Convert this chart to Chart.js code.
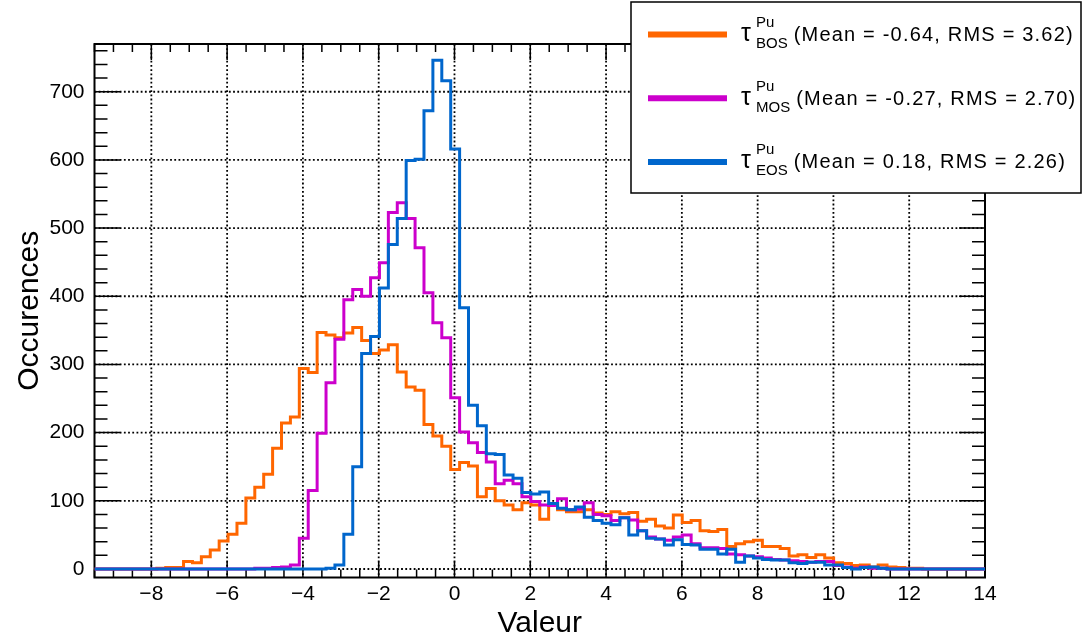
<!DOCTYPE html>
<html>
<head>
<meta charset="utf-8">
<title>tau Pu distributions</title>
<script src="https://cdn.jsdelivr.net/npm/chart.js@4.4.0/dist/chart.umd.min.js"></script>
<style>
  html, body { margin: 0; padding: 0; background: #fff; }
  canvas { display: block; }
</style>
</head>
<body>
<canvas id="histChart" width="1083" height="639"></canvas>
<script>
// histogram binning
const xMin = -9.5;
const xMax = 14;
const nBins = 100;

const xTickLabels = [-8, -6, -4, -2, 0, 2, 4, 6, 8, 10, 12, 14];
const yTickLabels = [0, 100, 200, 300, 400, 500, 600, 700];

// bin contents (100 bins each)
const bosCounts = [
  0, 0, 0, 0, 0, 0, 0, 1, 2, 2,
  11, 9, 18, 28, 41, 51, 67, 104, 120, 139,
  177, 214, 223, 294, 288, 347, 343, 339, 346, 354,
  335, 316, 321, 329, 289, 267, 262, 212, 195, 180,
  146, 156, 151, 106, 118, 100, 94, 87, 97, 94,
  73, 93, 87, 84, 84, 87, 82, 80, 84, 81,
  83, 70, 73, 63, 60, 79, 68, 71, 56, 55,
  58, 33, 37, 40, 42, 33, 33, 30, 19, 21,
  17, 21, 16, 9, 8, 5, 6, 3, 6, 3,
  2, 1, 1, 0, 0, 0, 0, 0, 0, 0
];
const mosCounts = [
  0, 0, 0, 0, 0, 0, 0, 0, 0, 0,
  0, 0, 0, 0, 0, 0, 0, 0, 1, 1,
  2, 3, 6, 45, 115, 199, 273, 337, 395, 410,
  400, 427, 449, 523, 537, 514, 471, 405, 361, 339,
  251, 201, 185, 171, 157, 125, 130, 125, 106, 99,
  94, 93, 103, 87, 88, 97, 80, 78, 71, 75,
  72, 56, 47, 44, 42, 47, 50, 37, 31, 31,
  30, 22, 21, 19, 18, 16, 14, 13, 12, 11,
  10, 11, 11, 5, 3, 1, 3, 1, 1, 0,
  0, 0, 0, 0, 0, 0, 0, 0, 0, 0
];
const eosCounts = [
  0, 0, 0, 0, 0, 0, 0, 0, 0, 0,
  0, 0, 0, 0, 0, 0, 0, 0, 0, 0,
  0, 0, 0, 0, 0, 0, 1, 6, 51, 150,
  316, 341, 412, 476, 514, 599, 601, 672, 746, 716,
  616, 383, 240, 210, 169, 168, 138, 133, 112, 110,
  113, 96, 89, 87, 91, 76, 71, 67, 65, 75,
  50, 56, 45, 44, 35, 43, 36, 35, 29, 29,
  22, 29, 10, 19, 16, 14, 13, 13, 9, 8,
  10, 10, 6, 6, 2, 0, 2, 3, 1, 0,
  0, 0, 0, 0, 0, 0, 0, 0, 0, 0
];

const seriesTags = ['BOS', 'MOS', 'EOS'];
const seriesMeans = ['-0.64', '-0.27', '0.18'];
const seriesRms = ['3.62', '2.70', '2.26'];
const seriesColors = ['#ff6600', '#cc00cc', '#0066cc'];

const FONT = "'Liberation Sans', Arial, Helvetica, sans-serif";

// bin edges, the last edge repeats the last content so the step closes
const binWidth = (xMax - xMin) / nBins;
const edges = Array.from({ length: nBins + 1 }, (_, i) => xMin + i * binWidth);
const toSteps = counts => edges.map((x, i) => ({ x, y: counts[Math.min(i, nBins - 1)] }));

const minus = v => String(v).replace('-', '\u2212');

// frame, dotted grid, inner ticks, titles and the legend box
const rootStyle = {
  id: 'rootStyle',
  beforeDatasetsDraw(chart) {
    const { ctx, chartArea: a, scales: { x, y } } = chart;
    ctx.save();
    ctx.strokeStyle = '#000';

    // dotted grid
    ctx.lineWidth = 1.8;
    ctx.setLineDash([1.8, 2.4]);
    ctx.beginPath();
    xTickLabels.forEach(v => {
      if (v <= xMin || v >= xMax) return;
      const px = x.getPixelForValue(v);
      ctx.moveTo(px, a.top);
      ctx.lineTo(px, a.bottom);
    });
    yTickLabels.forEach(v => {
      const py = y.getPixelForValue(v);
      ctx.moveTo(a.left, py);
      ctx.lineTo(a.right, py);
    });
    ctx.stroke();
    ctx.setLineDash([]);

    // ticks on all four sides
    ctx.lineWidth = 1.5;
    ctx.beginPath();
    for (let i = 0; xMin + i * 0.5 <= xMax + 1e-9; i++) {
      const v = xMin + i * 0.5;
      const px = x.getPixelForValue(v);
      const len = Math.abs(v % 2) < 1e-9 ? 16 : 8;
      ctx.moveTo(px, a.bottom);
      ctx.lineTo(px, a.bottom - len);
      ctx.moveTo(px, a.top);
      ctx.lineTo(px, a.top + len);
    }
    for (let v = 0; v <= y.max; v += 20) {
      const py = y.getPixelForValue(v);
      const len = v % 100 === 0 ? 26 : 13;
      ctx.moveTo(a.left, py);
      ctx.lineTo(a.left + len, py);
      ctx.moveTo(a.right, py);
      ctx.lineTo(a.right - len, py);
    }
    ctx.stroke();

    ctx.lineWidth = 2;
    ctx.strokeRect(a.left, a.top, a.right - a.left, a.bottom - a.top);
    ctx.restore();
  },
  afterDraw(chart) {
    const { ctx, chartArea: a } = chart;
    ctx.save();
    ctx.fillStyle = '#000';

    // axis titles
    ctx.font = '30px ' + FONT;
    ctx.textAlign = 'center';
    ctx.textBaseline = 'alphabetic';
    ctx.fillText('Valeur', (a.left + a.right) / 2, 632);
    ctx.save();
    ctx.translate(30, (a.top + a.bottom) / 2);
    ctx.rotate(-Math.PI / 2);
    ctx.textBaseline = 'middle';
    ctx.fillText('Occurences', 0, 0);
    ctx.restore();

    // legend
    ctx.fillStyle = '#fff';
    ctx.fillRect(631, 2, 450, 191);
    ctx.strokeStyle = '#000';
    ctx.lineWidth = 1.5;
    ctx.strokeRect(631, 2, 450, 191);

    ctx.textAlign = 'left';
    ctx.textBaseline = 'alphabetic';
    seriesTags.forEach((tag, i) => {
      const lineY = 34.5 + i * 63.7;
      const base = lineY + 6.5;
      ctx.strokeStyle = seriesColors[i];
      ctx.lineWidth = 6;
      ctx.beginPath();
      ctx.moveTo(648, lineY);
      ctx.lineTo(727, lineY);
      ctx.stroke();

      ctx.fillStyle = '#000';
      ctx.font = '25px ' + FONT;
      ctx.fillText('\u03c4', 741, base);
      ctx.font = '15px ' + FONT;
      ctx.fillText('Pu', 756, base - 14);
      ctx.fillText(tag, 756, base + 7);
      const w = Math.max(ctx.measureText('Pu').width, ctx.measureText(tag).width);
      ctx.font = '20px ' + FONT;
      if ('letterSpacing' in ctx) ctx.letterSpacing = '1.2px';
      ctx.fillText('(Mean = ' + seriesMeans[i] + ', RMS = ' + seriesRms[i] + ')', 756 + w + 6, base);
      if ('letterSpacing' in ctx) ctx.letterSpacing = '0px';
    });
    ctx.restore();
  }
};

const ctx = document.getElementById('histChart').getContext('2d');
new Chart(ctx, {
  type: 'line',
  data: {
    datasets: [
      { label: 'EOS', data: toSteps(eosCounts), borderColor: seriesColors[2], order: 1 },
      { label: 'MOS', data: toSteps(mosCounts), borderColor: seriesColors[1], order: 2 },
      { label: 'BOS', data: toSteps(bosCounts), borderColor: seriesColors[0], order: 3 }
    ]
  },
  options: {
    responsive: false,
    animation: false,
    devicePixelRatio: 1,
    layout: { padding: { top: 44, right: 98, left: 0, bottom: 0 } },
    elements: {
      line: { stepped: 'before', borderWidth: 3, fill: false, tension: 0, borderCapStyle: 'butt', borderJoinStyle: 'miter' },
      point: { radius: 0, hoverRadius: 0 }
    },
    plugins: {
      legend: { display: false },
      tooltip: { enabled: false }
    },
    scales: {
      x: {
        type: 'linear',
        min: xMin,
        max: xMax,
        grid: { display: false, drawTicks: false },
        border: { display: false },
        afterBuildTicks: s => { s.ticks = xTickLabels.map(v => ({ value: v })); },
        afterFit: s => { s.height = 61.5; },
        ticks: {
          color: '#000',
          font: { family: FONT, size: 21 },
          padding: 4,
          maxRotation: 0,
          autoSkip: false,
          callback: v => minus(v)
        }
      },
      y: {
        type: 'linear',
        min: -12.5,
        max: 770,
        grid: { display: false, drawTicks: false },
        border: { display: false },
        afterBuildTicks: s => { s.ticks = yTickLabels.map(v => ({ value: v })); },
        afterFit: s => { s.width = 94.5; },
        ticks: {
          color: '#000',
          font: { family: FONT, size: 21 },
          padding: 10,
          autoSkip: false
        }
      }
    }
  },
  plugins: [rootStyle]
});
</script>
</body>
</html>
